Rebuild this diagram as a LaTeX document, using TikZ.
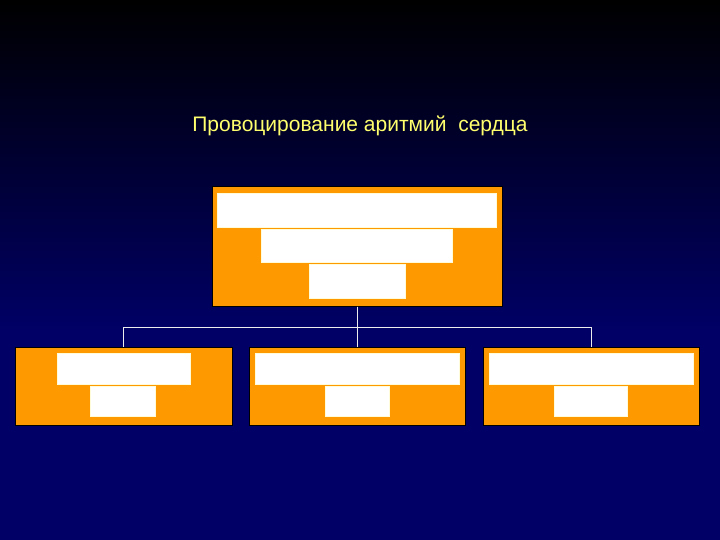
\documentclass[tikz,border=0pt]{standalone}
\usepackage{fontspec}
\setmainfont{Liberation Sans}
\definecolor{slideorange}{RGB}{255,153,0}
\definecolor{slidetop}{RGB}{0,0,0}
\definecolor{slidebottom}{RGB}{0,0,102}
\definecolor{titleyellow}{RGB}{255,255,110}

\begin{document}
\begin{tikzpicture}[x=1pt, y=-1pt,
  box/.style={rectangle, fill=slideorange, draw=black, line width=1pt, inner sep=0pt},
  bar/.style={rectangle, fill=white, draw=white!85!yellow, line width=0.4pt, inner sep=0pt},
  link/.style={draw=white!85!gray, line width=1pt}]
\fill[slidebottom] (0,0) rectangle (720,540);
\shade[top color=slidetop, bottom color=slidebottom] (0,0) rectangle (720,330);
\useasboundingbox (0,0) rectangle (720,540);

\node[text=titleyellow, font=\fontsize{21}{25}\selectfont] (title) at (360,126) {Провоцирование аритмий\ \ сердца};

% top box
\node[box, minimum width=290pt, minimum height=119pt] (root) at (357,246.5) {};
\node[bar, minimum width=279pt, minimum height=34pt] (r1) at (356.5,210) {};
\node[bar, minimum width=191pt, minimum height=33pt] (r2) at (356.5,245.5) {};
\node[bar, minimum width=96pt, minimum height=34pt] (r3) at (357,281) {};

% lower boxes
\node[box, minimum width=217pt, minimum height=78pt] (left) at (123.5,386) {};
\node[bar, minimum width=133pt, minimum height=31pt] (l1) at (123.5,368.5) {};
\node[bar, minimum width=65pt, minimum height=30pt] (l2) at (122.5,401) {};

\node[box, minimum width=216pt, minimum height=78pt] (mid) at (357,386) {};
\node[bar, minimum width=204pt, minimum height=31pt] (m1) at (357,368.5) {};
\node[bar, minimum width=64pt, minimum height=30pt] (m2) at (357,401) {};

\node[box, minimum width=216pt, minimum height=78pt] (right) at (591,386) {};
\node[bar, minimum width=204pt, minimum height=31pt] (g1) at (591,368.5) {};
\node[bar, minimum width=73pt, minimum height=30pt] (g2) at (590.5,401) {};

% connectors
\draw[link] (root.south) -- (mid.north);
\draw[link] (root.south) -- ++(0,21) -| (left.north);
\draw[link] (root.south) -- ++(0,21) -| (right.north);
\end{tikzpicture}
\end{document}
